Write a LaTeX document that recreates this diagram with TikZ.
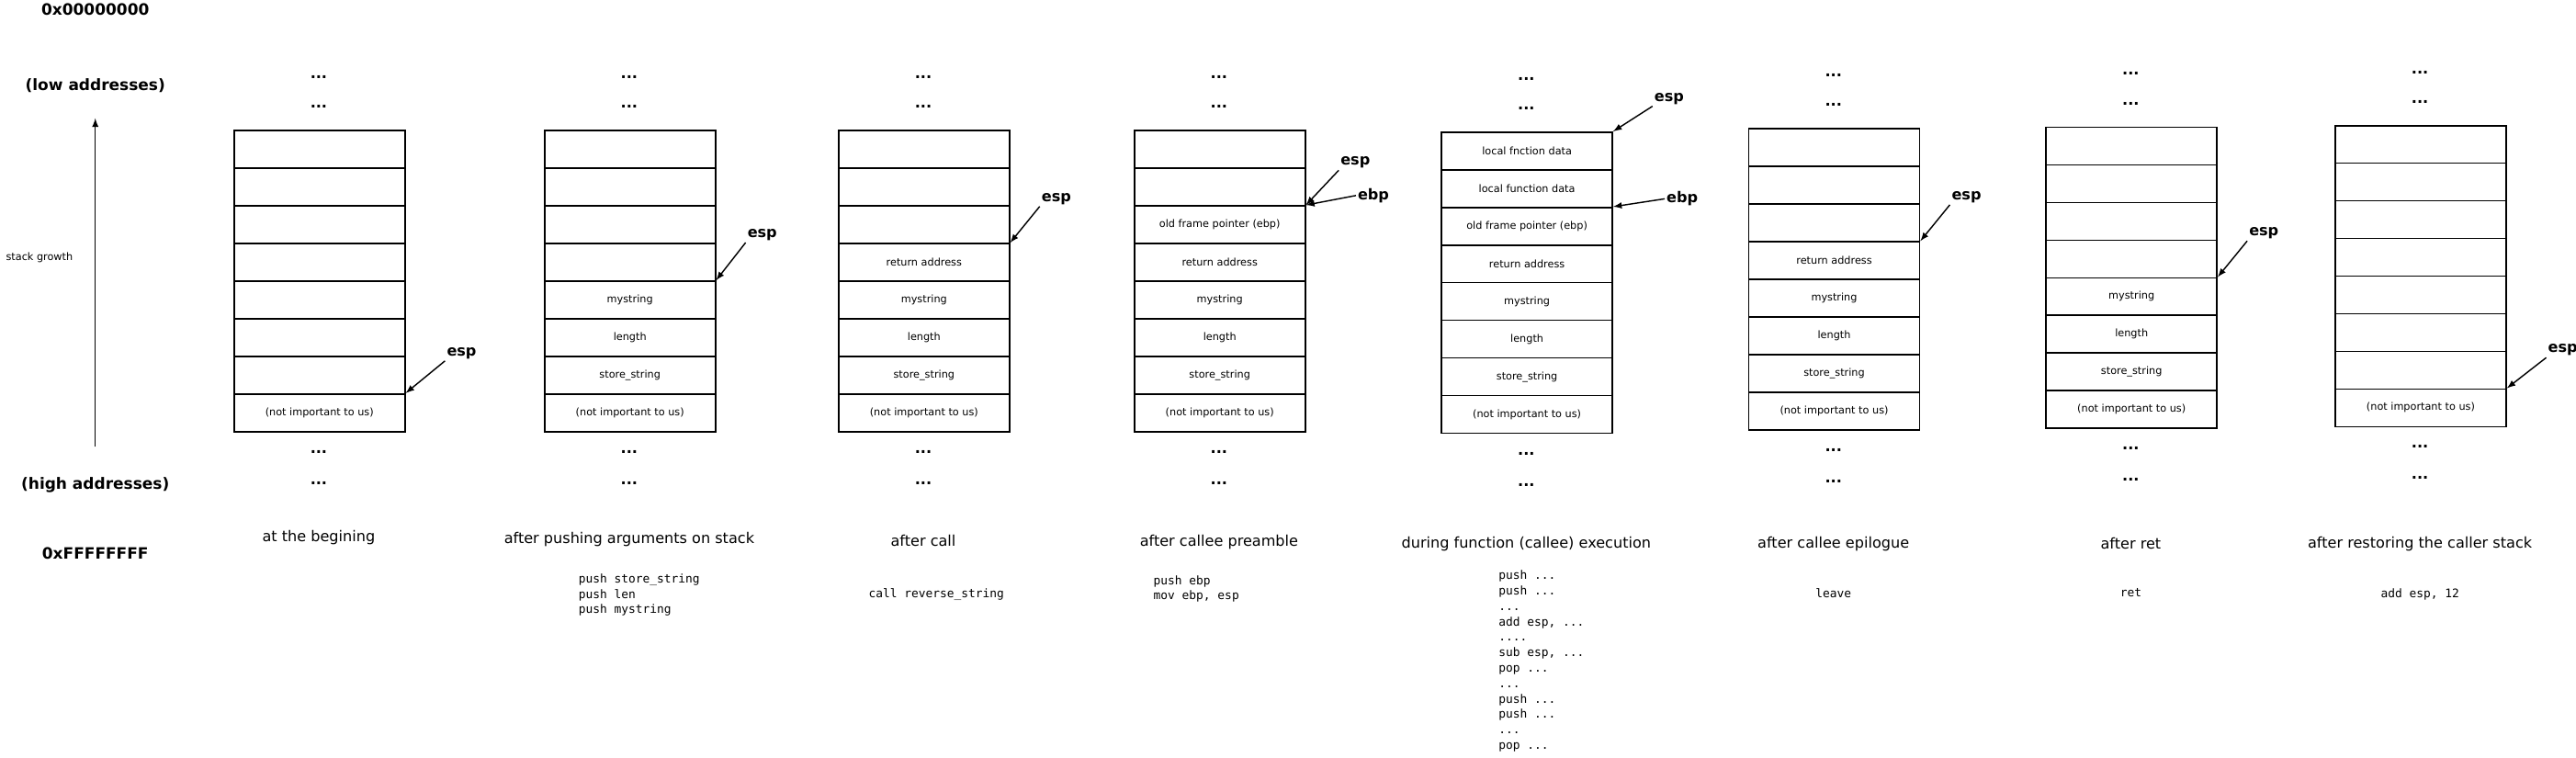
\documentclass[tikz,border=0pt]{standalone}
\usepackage{fontspec}
\setmainfont{DejaVu Sans}
\setmonofont{DejaVu Sans Mono}
\begin{document}
\begin{tikzpicture}[x=1pt,y=-1pt,
  cell/.style={draw,line width=0.9pt,minimum width=104pt,minimum height=22.9pt,inner sep=0pt,font=\fontsize{6.3}{7}\selectfont,anchor=north west},
  dots/.style={font=\fontsize{9}{10}\selectfont\bfseries},
  title/.style={font=\fontsize{9}{10}\selectfont},
  code/.style={font=\fontsize{7.2}{9.4}\selectfont\ttfamily,align=left,anchor=north west,inner sep=0pt},
  side/.style={font=\fontsize{9.5}{10}\selectfont\bfseries},
  ptr/.style={font=\fontsize{9}{10}\selectfont\bfseries,inner sep=1pt},
  arr/.style={-latex,line width=0.8pt}]
\useasboundingbox (0,0) rectangle (1568,461.3);
% left side
\node[side] (a0) at (58,6) {0x00000000};
\node[side] (al) at (58,52) {(low addresses)};
\node[side] (ah) at (58,295) {(high addresses)};
\node[side] (af) at (58,337) {0xFFFFFFFF};
\node[font=\fontsize{6.3}{7}\selectfont] (sg) at (24,157) {stack growth};
\coordinate (g1) at (58,272); \coordinate (g2) at (58,72);
\draw[arr] (g1) -- (g2);
% stacks: name/x/y/title/titley/contents
\foreach \n/\x/\y/\t/\ty/\c in {
 1/142/79/at the begining/327/{,,,,,,,(not important to us)},
 2/331/79/after pushing arguments on stack/328/{,,,,mystring,length,store\_string,(not important to us)},
 3/510/79/after call/329/{,,,return address,mystring,length,store\_string,(not important to us)},
 4/690/79/after callee preamble/330/{,,old frame pointer (ebp),return address,mystring,length,store\_string,(not important to us)},
 5/877/80/during function (callee) execution/331/{local fnction data,local function data,old frame pointer (ebp),return address,mystring,length,store\_string,(not important to us)},
 6/1064/78/after callee epilogue/331/{,,,return address,mystring,length,store\_string,(not important to us)},
 7/1245/77/after ret/331/{,,,,mystring,length,store\_string,(not important to us)},
 8/1421/76/after restoring the caller stack/331/{,,,,,,,(not important to us)}}{
  \foreach \v [count=\i from 0] in \c {
    \node[cell] (s\n c\i) at (\x,\y+\i*22.9) {\v};
  }
  \node[dots] (s\n d1) at (\x+52,\y-32) {...};
  \node[dots] (s\n d2) at (\x+52,\y-14) {...};
  \node[dots] (s\n d3) at (\x+52,\y+196) {...};
  \node[dots] (s\n d4) at (\x+52,\y+215) {...};
  \node[title] (s\n t) at (\x+52,\ty) {\t};
}
% code
\node[code] (k2) at (352,349) {push store\_string\\push len\\push mystring};
\node[code,anchor=north] (k3) at (570,358) {call reverse\_string};
\node[code] (k4) at (702,350) {push ebp\\mov ebp, esp};
\node[code] (k5) at (912,347) {push ...\\push ...\\...\\add esp, ...\\....\\sub esp, ...\\pop ...\\...\\push ...\\push ...\\...\\pop ...};
\node[code,anchor=north] (k6) at (1116,358) {leave};
\node[code,anchor=north] (k7) at (1297,358) {ret};
\node[code,anchor=north] (k8) at (1473,358) {add esp, 12};
% pointers
\node[ptr] (p1) at (281,215) {esp}; \draw[arr] (p1.south west) -- (s1c7.north east);
\node[ptr] (p2) at (464,143) {esp}; \draw[arr] (p2.south west) -- (s2c4.north east);
\node[ptr] (p3) at (643,121) {esp}; \draw[arr] (p3.south west) -- (s3c3.north east);
\node[ptr] (p4) at (825,99) {esp}; \draw[arr] (p4.south west) -- (s4c2.north east);
\node[ptr] (q4) at (836,119) {ebp}; \draw[arr] (q4.west) -- (s4c2.north east);
\node[ptr] (p5) at (1016,60) {esp}; \draw[arr] (p5.south west) -- (s5c0.north east);
\node[ptr] (q5) at (1024,121) {ebp}; \draw[arr] (q5.west) -- (s5c2.north east);
\node[ptr] (p6) at (1197,120) {esp}; \draw[arr] (p6.south west) -- (s6c3.north east);
\node[ptr] (p7) at (1378,142) {esp}; \draw[arr] (p7.south west) -- (s7c4.north east);
\node[ptr] (p8) at (1560,213) {esp}; \draw[arr] (p8.south west) -- (s8c7.north east);
\end{tikzpicture}
\end{document}
